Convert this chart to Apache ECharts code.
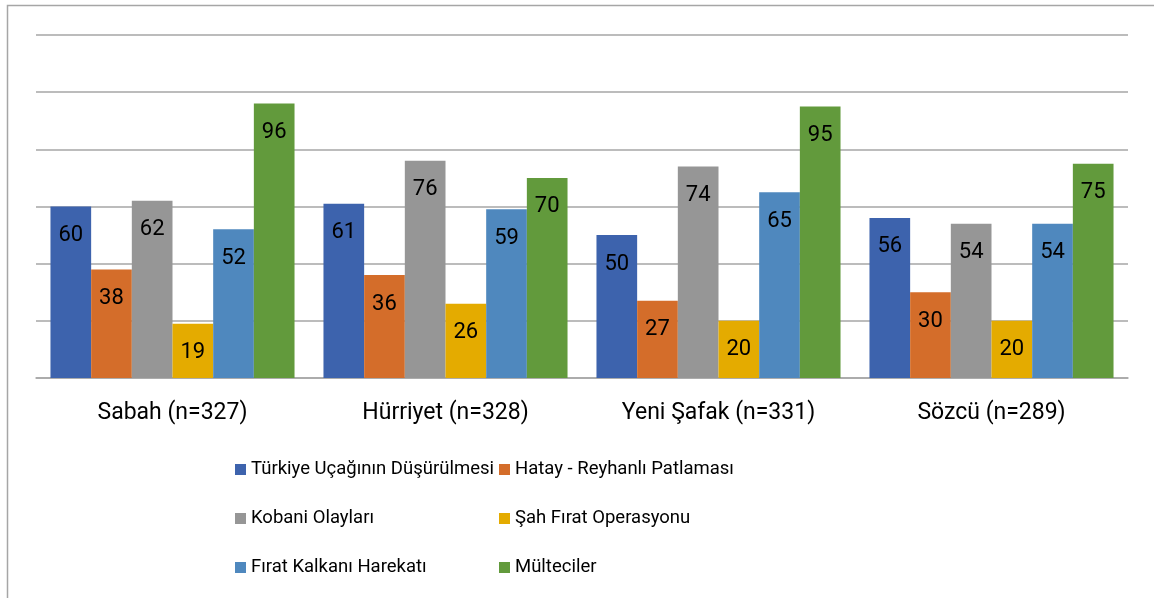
<!DOCTYPE html>
<html>
<head>
<meta charset="utf-8">
<script src="https://cdn.jsdelivr.net/npm/echarts@6/dist/echarts.min.js"></script>
<style>
html, body { margin: 0; padding: 0; background: #fff; }
#main { width: 1154px; height: 598px; }
</style>
</head>
<body>
<div id="main"></div>
<script>
var categories = ['Sabah (n=327)', 'Hürriyet (n=328)', 'Yeni Şafak (n=331)', 'Sözcü (n=289)'];
var seriesNames = ['Türkiye Uçağının Düşürülmesi', 'Hatay - Reyhanlı Patlaması', 'Kobani Olayları',
    'Şah Fırat Operasyonu', 'Fırat Kalkanı Harekatı', 'Mülteciler'];
var ucak = [60, 61, 50, 56];
var reyhanli = [38, 36, 27, 30];
var kobani = [62, 76, 74, 54];
var sahFirat = [19, 26, 20, 20];
var firatKalkani = [52, 59, 65, 54];
var multeciler = [96, 70, 95, 75];
var colors = ['#3D63AD', '#D46D2A', '#969696', '#E4AB00', '#4F88BE', '#629A3C'];

var font = 'Roboto, "Noto Sans", sans-serif';
var myChart = echarts.init(document.getElementById('main'));

var values = [ucak, reyhanli, kobani, sahFirat, firatKalkani, multeciler];
var series = [];
for (var i = 0; i < values.length; i++) {
    series.push({
        name: seriesNames[i],
        type: 'bar',
        data: values[i],
        barGap: '0%',
        barCategoryGap: '10.6%',
        itemStyle: { color: colors[i] },
        label: {
            show: true,
            position: 'insideTop',
            distance: 18,
            color: '#000',
            fontFamily: font,
            fontSize: 22
        }
    });
}

// legend in two columns, like the original
var legendBase = {
    orient: 'vertical',
    top: 455,
    itemWidth: 11,
    itemHeight: 11,
    itemGap: 30,
    icon: 'rect',
    textStyle: { color: '#000', fontFamily: font, fontSize: 18.5 }
};

option = {
    animation: false,
    color: colors,
    graphic: [{
        type: 'rect',
        shape: { x: 7.5, y: 5.5, width: 1160, height: 600 },
        style: { fill: 'none', stroke: '#A6A6A6', lineWidth: 1.5 },
        silent: true
    }],
    legend: [
        echarts.util.merge({ left: 230, data: [seriesNames[0], seriesNames[2], seriesNames[4]] }, legendBase),
        echarts.util.merge({ left: 494, data: [seriesNames[1], seriesNames[3], seriesNames[5]] }, legendBase)
    ],
    grid: {
        left: 36,
        right: 26,
        top: 35,
        bottom: 220,
        containLabel: false
    },
    xAxis: {
        type: 'category',
        data: categories,
        axisTick: { show: false },
        axisLine: { lineStyle: { color: '#A6A6A6', width: 1.5 } },
        axisLabel: {
            color: '#000',
            fontFamily: font,
            fontSize: 23,
            margin: 24
        }
    },
    yAxis: {
        type: 'value',
        min: 0,
        max: 120,
        interval: 20,
        axisLabel: { show: false },
        axisLine: { show: false },
        axisTick: { show: false },
        splitLine: { lineStyle: { color: '#A6A6A6', width: 1.5 } }
    },
    series: series
};

myChart.setOption(option);
</script>
</body>
</html>
